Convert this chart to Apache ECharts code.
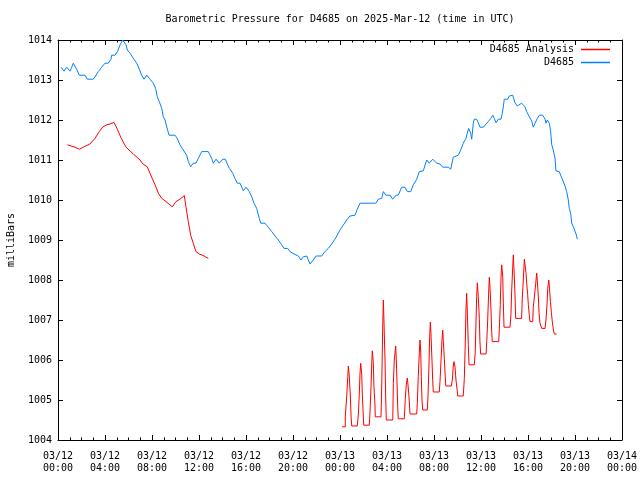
<!DOCTYPE html>
<html>
<head>
<meta charset="utf-8">
<script src="https://cdn.jsdelivr.net/npm/echarts@6/dist/echarts.min.js"></script>
<style>html,body{margin:0;padding:0;background:#fff;}#c{width:640px;height:480px;}</style>
</head>
<body>
<div id="c"></div>
<script>
// Hours since 2025-03-12 00:00 UTC
var tickLabels = ['03/12\n00:00','03/12\n04:00','03/12\n08:00','03/12\n12:00','03/12\n16:00','03/12\n20:00','03/13\n00:00','03/13\n04:00','03/13\n08:00','03/13\n12:00','03/13\n16:00','03/13\n20:00','03/14\n00:00'];

var obsHours = [0.26,0.40,0.51,0.62,0.74,0.88,1.02,1.17,1.30,1.45,1.59,1.81,2.30,2.49,3.00,3.15,3.43,3.72,4.00,4.28,4.51,4.57,4.85,5.08,5.28,5.51,5.62,5.79,5.90,6.13,6.41,6.70,6.92,7.12,7.32,7.55,7.83,8.11,8.31,8.45,8.62,8.83,8.96,9.11,9.25,9.45,9.96,10.15,10.38,10.66,10.95,11.09,11.29,11.51,11.74,11.94,12.23,12.79,13.08,13.22,13.45,13.73,14.02,14.24,14.41,14.58,14.87,15.06,15.26,15.49,15.77,16.00,16.28,16.49,16.68,16.91,17.13,17.25,17.62,17.90,18.19,18.47,18.75,19.04,19.23,19.55,19.74,20.09,20.45,20.68,20.88,21.17,21.30,21.45,21.73,21.96,22.44,22.72,23.00,23.29,23.57,23.86,24.00,24.57,24.85,25.28,25.47,25.70,27.06,27.26,27.55,27.69,27.91,28.26,28.49,28.77,28.96,29.25,29.53,29.73,30.02,30.24,30.53,30.75,31.09,31.38,31.60,31.89,32.23,32.51,32.74,33.22,33.42,33.53,33.64,33.79,34.07,34.27,34.49,34.72,34.83,34.95,35.06,35.12,35.21,35.29,35.34,35.43,35.63,35.77,35.91,36.20,36.43,36.62,36.83,37.00,37.13,37.28,37.47,37.70,37.81,37.90,37.98,38.27,38.41,38.70,38.81,38.89,39.09,39.17,39.46,39.74,39.89,40.11,40.31,40.45,40.60,40.79,40.96,41.25,41.45,41.53,41.64,41.73,41.81,41.93,42.02,42.15,42.30,42.38,42.66,42.78,42.95,43.15,43.29,43.43,43.51,43.63,43.72,43.86,44.09,44.20];
var obsPressure = [1013.32,1013.27,1013.22,1013.27,1013.32,1013.27,1013.22,1013.32,1013.42,1013.38,1013.27,1013.12,1013.12,1013.02,1013.02,1013.08,1013.21,1013.32,1013.42,1013.42,1013.52,1013.62,1013.62,1013.72,1013.88,1014.0,1014.0,1013.88,1013.75,1013.67,1013.54,1013.42,1013.27,1013.12,1013.02,1013.12,1013.02,1012.92,1012.79,1012.58,1012.46,1012.29,1012.08,1012.0,1011.83,1011.62,1011.62,1011.54,1011.38,1011.25,1011.12,1010.96,1010.83,1010.92,1010.92,1011.04,1011.21,1011.21,1011.04,1010.92,1011.02,1010.92,1011.02,1011.02,1010.9,1010.79,1010.67,1010.54,1010.42,1010.42,1010.23,1010.32,1010.21,1010.08,1009.92,1009.79,1009.54,1009.42,1009.42,1009.32,1009.21,1009.10,1009.0,1008.88,1008.79,1008.79,1008.71,1008.65,1008.6,1008.5,1008.58,1008.6,1008.5,1008.4,1008.5,1008.6,1008.6,1008.71,1008.79,1008.9,1009.02,1009.17,1009.25,1009.5,1009.6,1009.62,1009.77,1009.92,1009.92,1010.02,1010.04,1010.21,1010.12,1010.12,1010.02,1010.12,1010.12,1010.32,1010.32,1010.21,1010.21,1010.38,1010.52,1010.71,1010.73,1011.0,1010.92,1011.02,1010.92,1010.9,1010.82,1010.82,1010.77,1010.73,1011.07,1011.12,1011.12,1011.25,1011.42,1011.54,1011.67,1011.79,1011.83,1011.67,1011.52,1011.75,1011.92,1012.02,1012.02,1011.93,1011.82,1011.82,1011.9,1011.96,1012.04,1012.12,1012.04,1011.93,1012.02,1012.02,1012.17,1012.33,1012.52,1012.52,1012.6,1012.62,1012.58,1012.43,1012.35,1012.32,1012.42,1012.33,1012.21,1012.08,1011.98,1011.82,1011.92,1012.04,1012.12,1012.12,1012.02,1011.92,1012.0,1012.02,1011.92,1011.71,1011.38,1011.25,1011.04,1010.73,1010.71,1010.62,1010.5,1010.35,1010.21,1010.0,1009.79,1009.67,1009.42,1009.33,1009.15,1009.02];

var anaHours = [0.79,1.45,1.81,2.15,2.72,3.15,3.51,3.80,4.14,4.43,4.77,5.05,5.34,5.79,6.41,6.98,7.26,7.60,7.97,8.26,8.54,8.83,9.11,9.73,10.04,10.38,10.75,10.89,11.09,11.29,11.51,11.74,12.03,12.43,12.79,
18.00,
24.17,24.45,24.45,24.57,24.66,24.71,24.79,24.88,24.94,25.00,
25.47,25.56,25.64,25.70,25.76,25.85,25.90,25.98,26.02,
26.49,26.55,26.64,26.70,26.75,26.83,26.89,26.98,27.00,
27.49,27.55,27.63,27.69,27.74,27.83,27.89,27.94,
28.49,28.54,28.62,28.74,28.79,28.85,28.91,28.96,
29.47,29.56,29.64,29.73,29.81,29.87,29.96,
30.53,30.58,30.66,30.75,30.81,30.87,30.92,30.98,31.04,
31.43,31.49,31.57,31.63,31.69,31.74,31.83,31.89,31.94,
32.45,32.51,32.60,32.68,32.74,32.79,32.88,32.96,33.00,
33.47,33.56,33.64,33.70,33.79,33.87,33.98,34.02,
34.49,34.58,34.66,34.72,34.78,34.83,34.92,34.98,
35.43,35.51,35.57,35.63,35.69,35.77,35.86,35.91,35.97,
36.43,36.49,36.57,36.66,36.71,36.77,36.85,36.91,36.96,
37.51,37.56,37.64,37.70,37.76,37.85,37.90,37.96,
38.47,38.55,38.61,38.70,38.75,38.81,38.89,38.95,
39.46,39.51,39.60,39.69,39.74,39.83,39.89,39.97,40.03,40.11,40.17,
40.40,40.45,40.54,40.66,40.74,40.79,40.88,40.94,41.02,41.17,
41.45,41.53,41.62,41.68,41.77,41.82,41.91,41.99,42.07,42.16,42.24,
42.44];
var anaPressure = [1011.38,1011.32,1011.27,1011.32,1011.4,1011.54,1011.71,1011.82,1011.88,1011.9,1011.94,1011.77,1011.57,1011.32,1011.15,1011.0,1010.89,1010.83,1010.57,1010.38,1010.17,1010.04,1009.98,1009.83,1009.96,1010.02,1010.11,1009.83,1009.46,1009.12,1008.92,1008.71,1008.65,1008.6,1008.54,
null,
1004.33,1004.33,1004.58,1005.08,1005.58,1005.85,1005.6,1005.1,1004.6,1004.35,
1004.35,1004.63,1005.13,1005.65,1005.92,1005.65,1005.13,1004.63,1004.37,
1004.37,1004.67,1005.32,1005.9,1006.23,1005.96,1005.33,1004.85,1004.58,
1004.58,1005.3,1006.75,1007.5,1007.0,1006.0,1005.05,1004.5,
1004.5,1005.42,1006.0,1006.35,1006.0,1005.46,1004.83,1004.53,
1004.53,1005.04,1005.38,1005.55,1005.3,1005.08,1004.65,
1004.65,1004.93,1005.58,1006.18,1006.5,1006.2,1005.58,1005.0,1004.75,
1004.75,1005.1,1005.85,1006.58,1006.95,1006.67,1005.98,1005.48,1005.2,
1005.2,1005.46,1006.0,1006.5,1006.75,1006.48,1006.03,1005.58,1005.35,
1005.35,1005.5,1005.85,1005.96,1005.82,1005.5,1005.23,1005.1,
1005.1,1005.54,1006.4,1007.25,1007.67,1007.25,1006.39,1005.88,
1005.88,1006.2,1006.9,1007.58,1007.93,1007.58,1007.02,1006.46,1006.15,
1006.15,1006.46,1007.0,1007.75,1008.07,1007.79,1007.25,1006.71,1006.46,
1006.46,1006.77,1007.38,1008.04,1008.38,1008.08,1007.42,1006.82,
1006.82,1007.13,1007.73,1008.32,1008.63,1008.25,1007.65,1007.04,
1007.04,1007.52,1008.0,1008.52,1008.4,1008.17,1007.92,1007.64,1007.38,1007.13,1006.96,
1006.96,1007.32,1007.57,1007.92,1008.17,1008.0,1007.58,1007.18,1006.92,1006.79,
1006.79,1007.0,1007.4,1007.79,1008.0,1007.83,1007.46,1007.18,1006.96,1006.75,1006.65,
1006.65];

function pairs(xs, ys) {
  var out = [];
  for (var i = 0; i < xs.length; i++) out.push([xs[i], ys[i] === null ? '-' : ys[i]]);
  return out;
}

var FONT = '"DejaVu Sans Mono", "Liberation Mono", monospace';
var chart = echarts.init(document.getElementById('c'), null, {renderer: 'canvas'});

function xAxisBase(pos, showLabels) {
  return {
    type: 'value', position: pos, min: 0, max: 48, interval: 4,
    axisLine: {show: true, onZero: false, lineStyle: {color: '#000', width: 1}},
    axisTick: {show: true, inside: true, length: 5, lineStyle: {color: '#000'}},
    minorTick: {show: true, splitNumber: 4, length: 2.5, lineStyle: {color: '#000'}},
    splitLine: {show: false},
    minorSplitLine: {show: false},
    axisLabel: showLabels ? {
      show: true, margin: 10, color: '#000', fontFamily: FONT, fontSize: 10, lineHeight: 12,
      showMinLabel: true, showMaxLabel: true, hideOverlap: false,
      formatter: function (v) { return tickLabels[Math.round(v / 4)] || ''; }
    } : {show: false}
  };
}
function yAxisBase(pos, showLabels) {
  var a = {
    type: 'value', position: pos, min: 1004, max: 1014, interval: 1,
    axisLine: {show: true, onZero: false, lineStyle: {color: '#000', width: 1}},
    axisTick: {show: true, inside: true, length: 5, lineStyle: {color: '#000'}},
    splitLine: {show: false},
    axisLabel: showLabels ? {
      show: true, margin: 6, color: '#000', fontFamily: FONT, fontSize: 10,
      formatter: function (v) { return String(v); }
    } : {show: false}
  };
  if (showLabels) {
    a.name = 'milliBars';
    a.nameLocation = 'middle';
    a.nameGap = 42;
    a.nameRotate = 90;
    a.nameTextStyle = {color: '#000', fontFamily: FONT, fontSize: 10};
  }
  return a;
}

chart.setOption({
  animation: false,
  backgroundColor: '#fff',
  title: {
    text: 'Barometric Pressure for D4685 on 2025-Mar-12 (time in UTC)',
    left: 340, top: 14, padding: 0, textAlign: 'center',
    textStyle: {color: '#000', fontFamily: FONT, fontSize: 10, fontWeight: 'normal'}
  },
  grid: {left: 58, right: 18, top: 40, bottom: 40, containLabel: false, outerBoundsMode: 'none'},
  legend: {
    orient: 'vertical', right: 30, top: 44, padding: 0, align: 'right',
    itemWidth: 29, itemHeight: 1.5, itemGap: 2, icon: 'rect',
    textStyle: {color: '#000', fontFamily: FONT, fontSize: 10, lineHeight: 11, padding: [0, 2, 0, 0]},
    data: ['D4685 Analysis', 'D4685']
  },
  xAxis: [xAxisBase('bottom', true), xAxisBase('top', false)],
  yAxis: [yAxisBase('left', true), yAxisBase('right', false)],
  series: [
    {
      name: 'D4685 Analysis', type: 'line', xAxisIndex: 0, yAxisIndex: 0,
      data: pairs(anaHours, anaPressure), connectNulls: false,
      showSymbol: false, symbol: 'none', color: '#ff0000',
      lineStyle: {color: '#ff0000', width: 1}
    },
    {
      name: 'D4685', type: 'line', xAxisIndex: 0, yAxisIndex: 0,
      data: pairs(obsHours, obsPressure),
      showSymbol: false, symbol: 'none', color: '#0080ff',
      lineStyle: {color: '#0080ff', width: 1}
    }
  ]
});
</script>
</body>
</html>
